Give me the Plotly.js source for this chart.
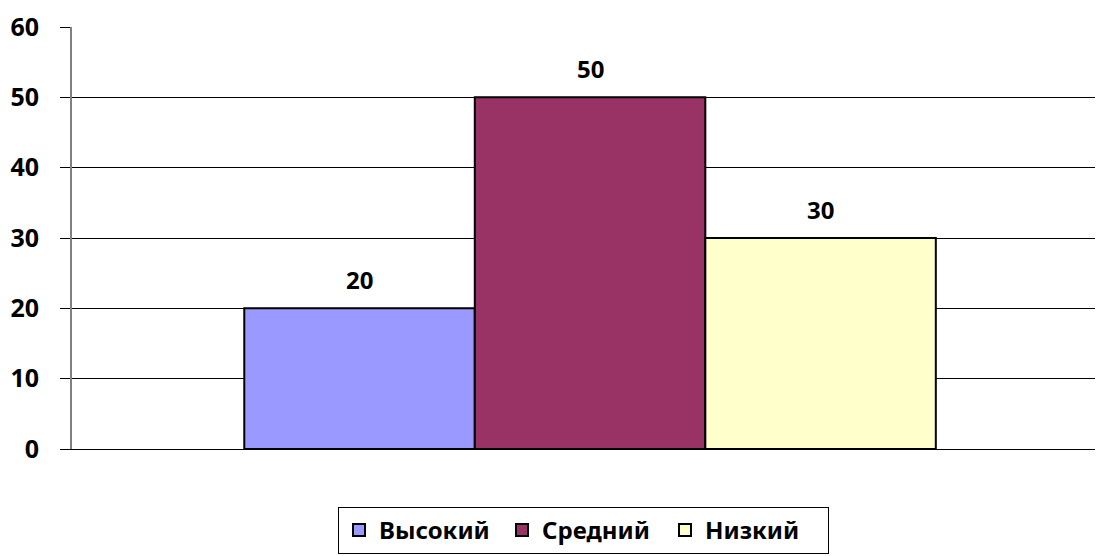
<!DOCTYPE html>
<html><head><meta charset="utf-8">
<script src="https://cdn.plot.ly/plotly-3.0.1.min.js"></script>
<style>html,body{margin:0;padding:0;background:#fff}#chart{width:1097px;height:556px}</style>
</head><body><div id="chart"></div>
<script>
var seriesNames = ['Высокий', 'Средний', 'Низкий'];
var seriesValues = [20, 50, 30];
var seriesColors = ['#9999FF', '#993366', '#FFFFCC'];
var yTicks = [0, 10, 20, 30, 40, 50, 60];

var FONT = '"Noto Sans", "Open Sans", sans-serif';
var BARGAP = 0.324;
var barW = (1 - BARGAP) / seriesNames.length;

var traces = seriesNames.map(function (n, i) {
  return {
    type: 'bar', name: n, x: [''], y: [seriesValues[i]],
    marker: {color: seriesColors[i], line: {color: '#000', width: 2}},
    hoverinfo: 'skip'
  };
});

var annotations = seriesValues.map(function (v, i) {
  return {
    xref: 'x', yref: 'y', x: (i - (seriesNames.length - 1) / 2) * barW, y: v,
    text: String(v), showarrow: false, yanchor: 'bottom', yshift: 10,
    font: {family: FONT, size: 24, color: '#000', weight: 'bold'}
  };
});

var layout = {
  width: 1097, height: 556,
  margin: {l: 72, r: 2, t: 27, b: 107},
  paper_bgcolor: '#fff', plot_bgcolor: '#fff',
  barmode: 'group', bargap: BARGAP, bargroupgap: 0,
  showlegend: true,
  annotations: annotations,
  legend: {orientation: 'h', x: 0.5, xanchor: 'center', y: -0.137, yanchor: 'top',
    bordercolor: '#000', borderwidth: 1, traceorder: 'normal',
    font: {family: FONT, size: 24, color: '#000', weight: 'bold'},
    itemwidth: 30, entrywidth: 118},
  xaxis: {range: [-0.5064, 0.4936], showticklabels: false, showgrid: false, zeroline: false,
    showline: true, linecolor: '#000', linewidth: 1, fixedrange: true},
  yaxis: {range: [0, 60], tickvals: yTicks, showgrid: true, gridcolor: '#000', gridwidth: 1,
    zeroline: false, showline: true, linecolor: '#808080', linewidth: 2,
    ticks: 'outside', ticklen: 10, tickcolor: '#000', ticklabelstandoff: 16,
    tickfont: {family: FONT, size: 25, color: '#000', weight: 'bold'}}
};
Plotly.newPlot('chart', traces, layout, {displayModeBar: false, staticPlot: true});
</script></body></html>
